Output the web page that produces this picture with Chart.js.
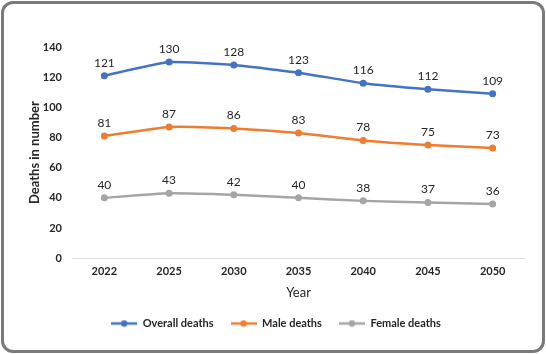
<!DOCTYPE html>
<html>
<head>
<meta charset="utf-8">
<script src="https://cdn.jsdelivr.net/npm/chart.js@4/dist/chart.umd.min.js"></script>
<style>
  body { margin: 0; background: #fff; }
  #frame {
    position: absolute; left: 1px; top: 1px;
    width: 538px; height: 346px;
    border: 3px solid #7a7a7a; border-radius: 12px;
    background: #fff;
  }
  #wrap { position: absolute; left: 0; top: 0; width: 538px; height: 346px; }
</style>
</head>
<body>
<div id="frame"><div id="wrap"><canvas id="myChart"></canvas></div></div>
<script>
var years = ["2022", "2025", "2030", "2035", "2040", "2045", "2050"];
var overallDeaths = [121, 130, 128, 123, 116, 112, 109];
var maleDeaths = [81, 87, 86, 83, 78, 75, 73];
var femaleDeaths = [40, 43, 42, 40, 38, 37, 36];
var yTicks = [0, 20, 40, 60, 80, 100, 120, 140];

var FONT = "Lato, 'Open Sans', sans-serif";

// legend marker: short line with a dot in the middle
function legendMark(color) {
  var c = document.createElement("canvas");
  c.width = 26; c.height = 8;
  var g = c.getContext("2d");
  g.strokeStyle = color; g.lineWidth = 2.5;
  g.beginPath(); g.moveTo(0, 4); g.lineTo(26, 4); g.stroke();
  g.fillStyle = color;
  g.beginPath(); g.arc(13, 4, 3.2, 0, Math.PI * 2); g.fill();
  return c;
}

// value labels above each point
var valueLabels = {
  id: "valueLabels",
  afterDatasetsDraw: function (chart) {
    var ctx = chart.ctx;
    ctx.save();
    ctx.font = "12px " + FONT;
    ctx.fillStyle = "#262626";
    ctx.textAlign = "center";
    ctx.textBaseline = "bottom";
    chart.data.datasets.forEach(function (ds, i) {
      chart.getDatasetMeta(i).data.forEach(function (pt, j) {
        ctx.fillText(ds.data[j], pt.x, pt.y - 7);
      });
    });
    ctx.restore();
  }
};

function series(label, data, color) {
  return {
    label: label,
    data: data,
    borderColor: color,
    backgroundColor: color,
    borderWidth: 2.5,
    pointRadius: 3.5,
    pointHoverRadius: 3.5,
    pointBackgroundColor: color,
    pointBorderWidth: 0,
    tension: 0.15,
    pointStyle: "circle"
  };
}

var ctx = document.getElementById("myChart").getContext("2d");
var marks = [legendMark("#4472C4"), legendMark("#ED7D31"), legendMark("#A5A5A5")];

var chart = new Chart(ctx, {
  type: "line",
  data: {
    labels: years,
    datasets: [
      series("Overall deaths", overallDeaths, "#4472C4"),
      series("Male deaths", maleDeaths, "#ED7D31"),
      series("Female deaths", femaleDeaths, "#A5A5A5")
    ]
  },
  options: {
    responsive: true,
    maintainAspectRatio: false,
    animation: false,
    layout: { padding: { left: 23, right: 17, top: 43, bottom: 11 } },
    scales: {
      x: {
        offset: true,
        grid: { display: false, drawTicks: false },
        border: { display: false },
        ticks: { color: "#262626", font: { family: FONT, size: 11, weight: "bold" }, padding: 7 },
        title: { display: true, text: "Year", color: "#262626", font: { family: FONT, size: 13 }, padding: { top: 0, bottom: 0 } }
      },
      y: {
        min: 0,
        max: 140,
        afterBuildTicks: function (axis) {
          axis.ticks = yTicks.map(function (v) { return { value: v }; });
        },
        afterFit: function (axis) { axis.width = 45; },
        grid: {
          drawTicks: false,
          color: function (c) { return c.tick.value === 0 ? "#d9d9d9" : "rgba(0,0,0,0)"; }
        },
        border: { display: false },
        ticks: { color: "#262626", font: { family: FONT, size: 11, weight: "bold" }, padding: 10 },
        title: { display: true, text: "Deaths in number", color: "#262626", font: { family: FONT, size: 13, weight: "bold" }, padding: { top: 0, bottom: 2 } }
      }
    },
    plugins: {
      tooltip: { enabled: false },
      legend: {
        position: "bottom",
        labels: {
          usePointStyle: true,
          pointStyleWidth: 26,
          boxHeight: 8,
          color: "#262626",
          font: { family: FONT, size: 11, weight: "bold" },
          padding: 17,
          generateLabels: function (chart) {
            return chart.data.datasets.map(function (ds, i) {
              return { text: ds.label, pointStyle: marks[i], fontColor: "#262626", datasetIndex: i, lineWidth: 0, strokeStyle: ds.borderColor, fillStyle: ds.borderColor };
            });
          }
        }
      }
    }
  },
  plugins: [valueLabels]
});
</script>
</body>
</html>
